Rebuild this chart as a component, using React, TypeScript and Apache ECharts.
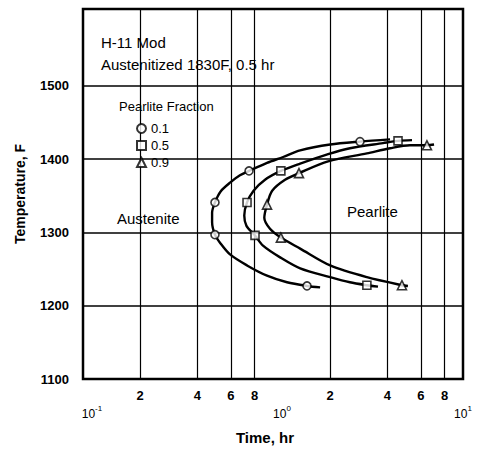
import React, { useEffect, useRef } from "react";
import * as echarts from "echarts";

// Measured points (time hr, temperature F)
const circlePts: [number, number][] = [[1.51, 1227], [0.495, 1297], [0.495, 1341], [0.748, 1384], [2.87, 1424]];
const squarePts: [number, number][] = [[3.12, 1228], [0.804, 1296], [0.73, 1341], [1.1, 1384], [4.55, 1425]];
const trianglePts: [number, number][] = [[4.77, 1228], [1.1, 1293], [0.93, 1338], [1.37, 1381], [6.46, 1419]];

// Curves (including the drawn extensions)
const circleCurve: [number, number][] = [
  [1.77, 1225], [1.51, 1227], [1.185, 1232], [0.93, 1241], [0.73, 1255], [0.594, 1270], [0.526, 1286],
  [0.495, 1297], [0.478, 1314], [0.478, 1327], [0.495, 1341], [0.53, 1356], [0.594, 1368], [0.67, 1378],
  [0.748, 1384], [0.93, 1395], [1.13, 1403], [1.39, 1412], [2.0, 1420], [2.87, 1424], [4.13, 1427],
];
const squareCurve: [number, number][] = [
  [3.57, 1226], [3.12, 1228], [2.54, 1232], [2.0, 1239], [1.39, 1251], [1.09, 1266], [0.886, 1282],
  [0.804, 1296], [0.725, 1309], [0.706, 1323], [0.73, 1341], [0.79, 1357], [0.908, 1372], [1.1, 1384],
  [1.39, 1394], [1.95, 1407], [2.54, 1415], [3.79, 1422], [4.55, 1425], [5.39, 1426],
];
const triangleCurve: [number, number][] = [
  [5.13, 1227], [4.77, 1228], [3.12, 1239], [2.0, 1255], [1.39, 1278], [1.1, 1293], [0.964, 1305],
  [0.9, 1320], [0.93, 1338], [0.99, 1357], [1.157, 1372], [1.37, 1381], [1.95, 1397], [3.12, 1408],
  [4.13, 1415], [5.26, 1419], [6.46, 1419], [7.04, 1420],
];

const xTickValues = [0.2, 0.4, 0.6, 0.8, 2, 4, 6, 8];
const xDecades = [0.1, 1, 10];
const yTickValues = [1100, 1200, 1300, 1400, 1500];
const legendNames = ["0.1", "0.5", "0.9"];

const FONT = '"Liberation Sans Narrow", "Liberation Sans", Arial, sans-serif';

export default function App() {
  const ref = useRef<HTMLDivElement>(null);
  useEffect(() => {
    if (!ref.current) return;
    const chart = echarts.init(ref.current, null, { renderer: "svg" });
    const lineStyle = { color: "#000", width: 2.4 };
    const markerStyle = { color: "#fff", borderColor: "#000", borderWidth: 1.6 };
    const supLabel = (v: number) => {
      if (v === 0.1) return "\n{d|10}{s|-1}";
      if (v === 1) return "\n{d|10}{s|0}";
      if (v === 10) return "\n{e|10}{s|1}";
      return "{n|" + v.toString().replace("0.", "") + "}";
    };
    chart.setOption({
      animation: false,
      backgroundColor: "#fff",
      grid: { left: 83, right: 16, top: 9, bottom: 72, show: true, borderColor: "#000", borderWidth: 2.5, outerBoundsMode: "none" },
      xAxis: {
        type: "log",
        logBase: 10,
        min: 0.1,
        max: 10,
        name: "Time, hr",
        nameLocation: "middle",
        nameGap: 51,
        nameTextStyle: { fontFamily: FONT, fontSize: 15, fontWeight: "bold", color: "#000", padding: [0, 16, 0, 0] },
        axisLine: { show: false },
        axisTick: { show: false, customValues: xTickValues },
        splitLine: { show: true, lineStyle: { color: "#000", width: 1.2 } },
        minorSplitLine: { show: false },
        axisLabel: {
          customValues: [...xTickValues, ...xDecades],
          margin: 7,
          lineHeight: 18,
          color: "#000",
          fontFamily: FONT,
          formatter: supLabel,
          rich: {
            n: { fontSize: 13, fontWeight: "bold", fontFamily: FONT, lineHeight: 18 },
            d: { fontSize: 12, fontFamily: FONT, lineHeight: 19, padding: [0, 0, 0, 18] },
            e: { fontSize: 12, fontFamily: FONT, lineHeight: 19 },
            s: { fontSize: 8, fontFamily: FONT, verticalAlign: "top", lineHeight: 10 },
          },
        },
      },
      yAxis: {
        type: "value",
        min: 1100,
        max: 1605,
        name: "Temperature, F",
        nameLocation: "middle",
        nameGap: 56,
        nameTextStyle: { fontFamily: FONT, fontSize: 14, fontWeight: "bold", color: "#000" },
        axisLine: { show: false },
        axisTick: { show: false, customValues: yTickValues },
        splitLine: { show: true, lineStyle: { color: "#000", width: 1.5 } },
        axisLabel: {
          customValues: yTickValues,
          margin: 14,
          color: "#000",
          fontFamily: FONT,
          fontSize: 13,
          fontWeight: "bold",
          formatter: (v: number) => String(v),
        },
      },
      legend: {
        data: legendNames,
        orient: "vertical",
        left: 131,
        top: 117,
        itemWidth: 9,
        itemHeight: 9,
        itemGap: 4,
        textStyle: { fontFamily: FONT, fontSize: 13, color: "#000" },
        selectedMode: false,
      },
      graphic: [
        { type: "text", x: 101, y: 42, style: { text: "H-11 Mod", fontFamily: FONT, fontSize: 15, fill: "#000", verticalAlign: "middle" } },
        { type: "text", x: 101, y: 64, style: { text: "Austenitized 1830F, 0.5 hr", fontFamily: FONT, fontSize: 15, fill: "#000", verticalAlign: "middle" } },
        { type: "text", x: 119, y: 106, style: { text: "Pearlite Fraction", fontFamily: FONT, fontSize: 13, fill: "#000", verticalAlign: "middle" } },
        { type: "text", x: 117, y: 218, style: { text: "Austenite", fontFamily: FONT, fontSize: 15, fill: "#000", verticalAlign: "middle" } },
        { type: "text", x: 347, y: 211, style: { text: "Pearlite", fontFamily: FONT, fontSize: 15, fill: "#000", verticalAlign: "middle" } },
      ],
      series: [
        { type: "line", data: circleCurve, smooth: 0.3, showSymbol: false, lineStyle, z: 3, silent: true },
        { type: "line", data: squareCurve, smooth: 0.3, showSymbol: false, lineStyle, z: 3, silent: true },
        { type: "line", data: triangleCurve, smooth: 0.3, showSymbol: false, lineStyle, z: 3, silent: true },
        { name: "0.1", type: "scatter", data: circlePts, symbol: "circle", symbolSize: 8, itemStyle: markerStyle, z: 5 },
        { name: "0.5", type: "scatter", data: squarePts, symbol: "rect", symbolSize: 8, itemStyle: markerStyle, z: 5 },
        { name: "0.9", type: "scatter", data: trianglePts, symbol: "triangle", symbolSize: 9, itemStyle: markerStyle, z: 5 },
      ],
    });
    return () => chart.dispose();
  }, []);
  return <div ref={ref} style={{ position: "fixed", left: 0, top: 0, width: 479, height: 451 }} />;
}
